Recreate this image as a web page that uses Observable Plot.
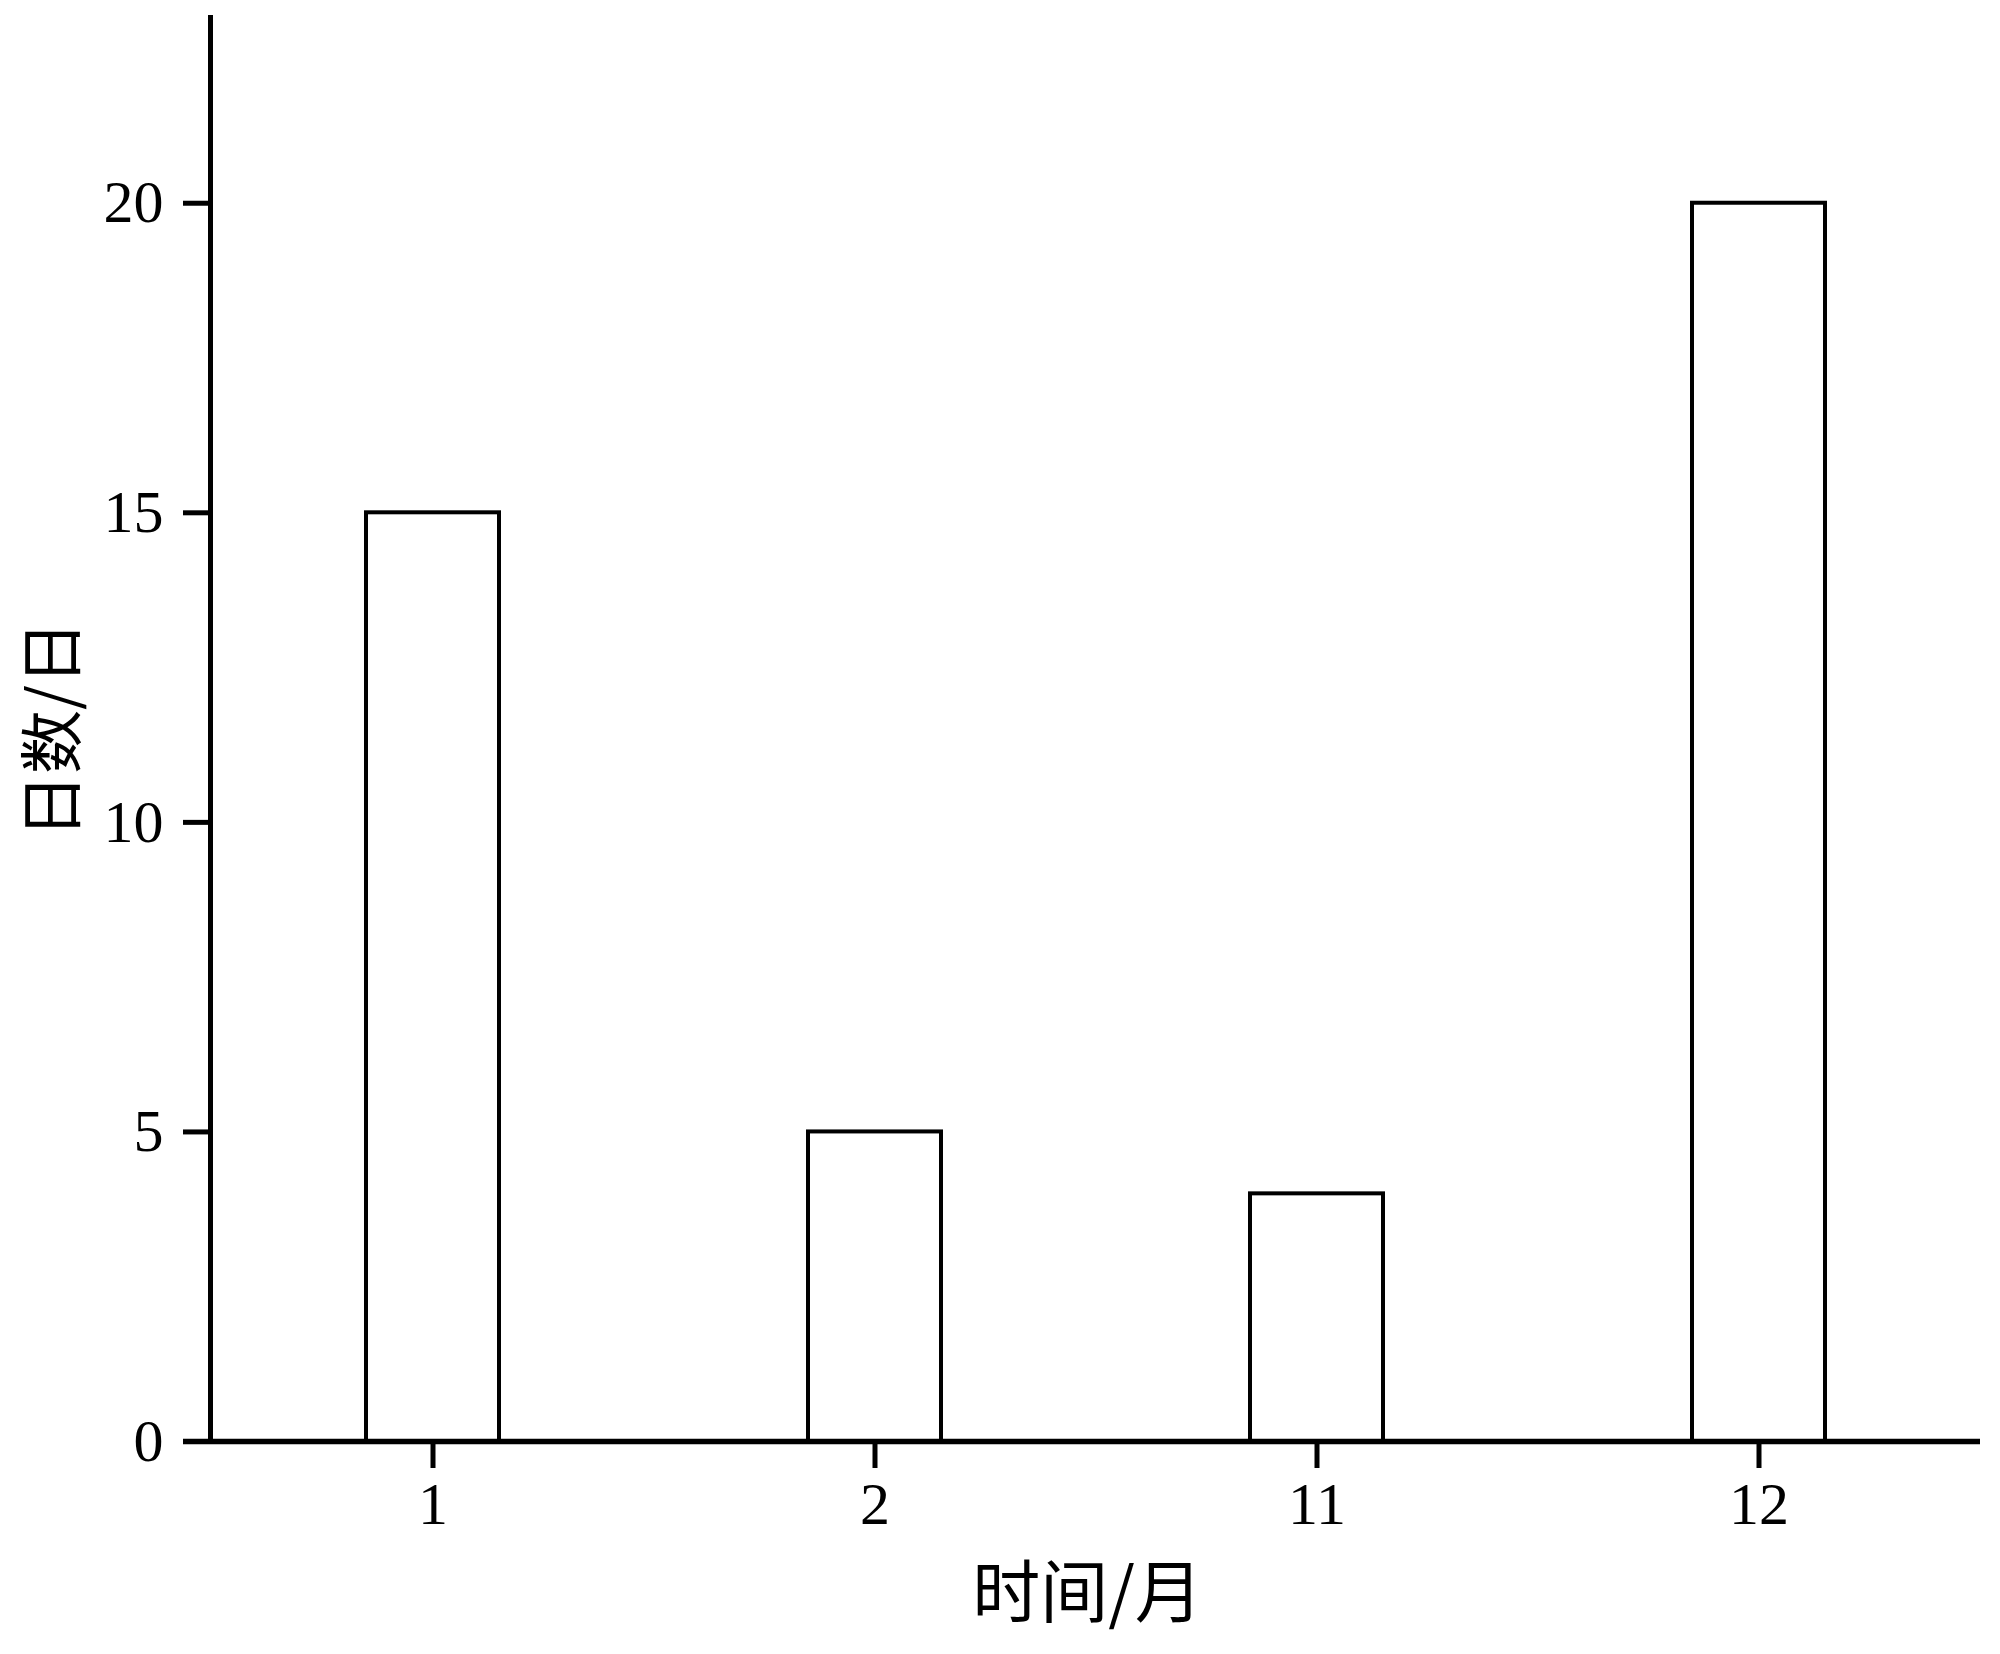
<!DOCTYPE html>
<html>
<head>
<meta charset="utf-8">
<script src="https://cdn.jsdelivr.net/npm/d3@7"></script>
<script src="https://cdn.jsdelivr.net/npm/@observablehq/plot@0.6"></script>
<style>
  html, body { margin: 0; padding: 0; background: #fff; }
</style>
</head>
<body>
<div id="chart"></div>
<script>
const months = ["1", "2", "11", "12"];
const days = [15, 5, 4, 20];
const yTicks = [0, 5, 10, 15, 20];
const xTitle = "时间/月";
const yTitle = "日数/日";

const data = months.map((m, i) => ({month: m, days: days[i]}));

const chart = Plot.plot({
  width: 2000,
  height: 1654,
  marginLeft: 210,
  marginRight: 20,
  marginTop: 17,
  marginBottom: 213,
  style: {background: "#fff", fontFamily: "'Liberation Serif', serif", fontSize: "60px", color: "#000"},
  x: {domain: months, paddingInner: 0.7, paddingOuter: 0.35, label: null},
  y: {domain: [0, 23], label: null},
  marks: [
    Plot.barY(data, {x: "month", y: "days", fill: "#fff", stroke: "#000", strokeWidth: 4}),
    Plot.axisY({ticks: yTicks, tickSize: 27, tickPadding: 20, strokeWidth: 5, label: null, fontSize: 60}),
    Plot.axisX({tickSize: 27, tickPadding: 13, strokeWidth: 5, label: null, fontSize: 60}),
    Plot.ruleY([0], {insetLeft: -27, strokeWidth: 5.5, stroke: "#000"}),
    Plot.frame({anchor: "left", strokeWidth: 5, stroke: "#000"}),
    Plot.text([yTitle], {text: d => d, frameAnchor: "left", rotate: -90, dx: -156, textAnchor: "middle", lineAnchor: "middle", fontSize: 64, fontFamily: "'Noto Sans CJK SC', sans-serif", fill: "#000", style: {letterSpacing: "6px"}}),
    Plot.text([xTitle], {text: d => d, frameAnchor: "bottom", dy: 154, dx: -8, textAnchor: "middle", lineAnchor: "middle", fontSize: 68, fontFamily: "'Noto Sans CJK SC', sans-serif", fill: "#000"})
  ]
});
document.getElementById("chart").appendChild(chart);
</script>
</body>
</html>
